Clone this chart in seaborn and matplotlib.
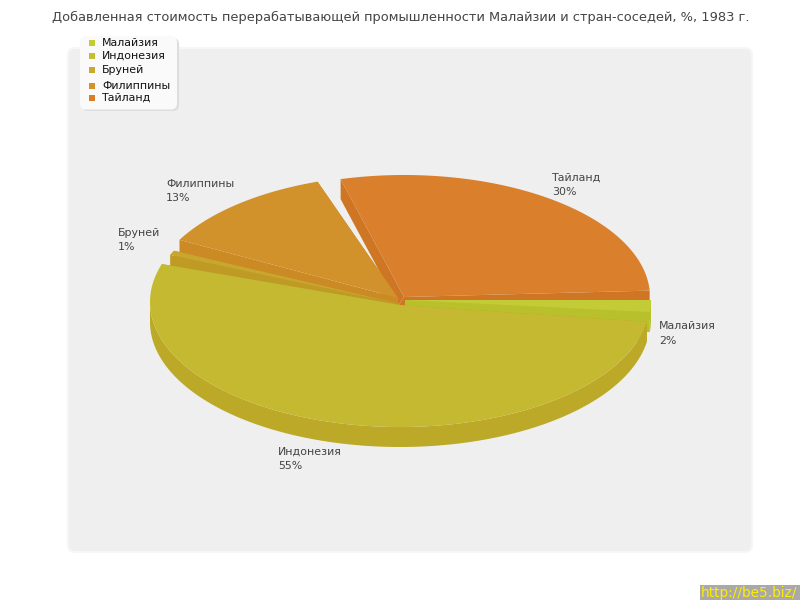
import numpy as np
import pandas as pd
import matplotlib
import matplotlib.pyplot as plt
import seaborn as sns
from matplotlib.patches import FancyBboxPatch, Polygon, Rectangle

matplotlib.use("Agg")

TITLE = "Добавленная стоимость перерабатывающей промышленности Малайзии и стран-соседей, %, 1983 г."
countries = ["Малайзия", "Индонезия", "Бруней", "Филиппины", "Тайланд"]
shares = [2, 55, 1, 13, 30]

top_colors = ["#C3CC36", "#C6B932", "#C9A62D", "#D2922B", "#DA7F2B"]
side_colors = ["#B8C02B", "#BBA927", "#BF9A24", "#CB8A24", "#CF7625"]
legend_colors = ["#C4CC2F", "#C6BC2F", "#C9A92F", "#D9922A", "#D97D2A"]

# pie layout, pixels
centers = [(405, 300), (400, 302), (400, 304), (398, 298), (404, 297)]
tips = [(405, 300), (400, 305), (400, 304), (398, 298), (404, 297)]
wall_tips = [(405, 320), (400, 325), (400, 324), (398, 318), (398, 306)]
radii = [(246, 123), (250, 125), (250, 125), (248, 123), (246, 122)]
pads = [(0, 1.5), (2, 5.5), (0, 1.5), (1.5, 2), (2, 3)]
DEPTH = 20


def slice_angles(values):
    """Start and end angle of each slice, clockwise on screen from east."""
    total = sum(values)
    edges = np.cumsum([0] + [v / total * 360 for v in values])
    return list(zip(edges[:-1], edges[1:]))


def arc(center, radius, a0, a1):
    t = np.radians(np.linspace(a0, a1, max(int(abs(a1 - a0)) * 2, 2)))
    return np.column_stack([center[0] + radius[0] * np.cos(t), center[1] + radius[1] * np.sin(t)])


def draw_slice(ax, i, a0, a1, z):
    c, tip, r = centers[i], tips[i], radii[i]
    a0, a1 = a0 + pads[i][0], a1 - pads[i][1]
    # radial walls facing the viewer
    for ang in (a0, a1):
        p = arc(c, r, ang, ang)[0]
        wall = [tip, p, (p[0], p[1] + DEPTH), wall_tips[i]]
        ax.add_patch(Polygon(wall, fc=side_colors[i], ec="none", zorder=z))
    # outer wall, only the front half shows
    lo, hi = max(a0, 0), min(a1, 180)
    if hi > lo:
        outer = arc(c, r, lo, hi)
        wall = np.vstack([outer, (outer + [0, DEPTH])[::-1]])
        ax.add_patch(Polygon(wall, fc=side_colors[i], ec="none", zorder=z))
    top = np.vstack([[tip], arc(c, r, a0, a1)])
    ax.add_patch(Polygon(top, fc=top_colors[i], ec="none", zorder=z + 0.5))


sns.set_theme(style="white")
plt.rcParams["font.family"] = ["DejaVu Sans"]

fig = plt.figure(figsize=(8, 6), dpi=100)
ax = fig.add_axes([0, 0, 1, 1])
ax.set_xlim(0, 800)
ax.set_ylim(600, 0)
ax.axis("off")

ax.add_patch(FancyBboxPatch((72, 52), 676, 496, boxstyle="round,pad=4,rounding_size=7",
                            fc="#EFEFEF", ec="#F6F6F6", lw=1.5, zorder=0))

# drawing order: back slices first, Indonesia on top
angles = slice_angles(shares)
for n, i in enumerate([4, 3, 2, 0, 1]):
    draw_slice(ax, i, *angles[i], 3 + n)

label_text = [f"{c}\n{s}%" for c, s in zip(countries, shares)]
label_pos = [(659, 333.5), (278, 458.5), (118, 240), (166, 191), (552, 184.5)]
for txt, (x, y) in zip(label_text, label_pos):
    ax.text(x, y, txt, fontsize=7.9, color="#444444", va="center", linespacing=1.55, zorder=12)

ax.text(400.5, 17, TITLE, fontsize=9.38, color="#444444", ha="center", va="center")

# legend
ax.add_patch(FancyBboxPatch((82, 38), 97, 73, boxstyle="round,pad=0,rounding_size=6",
                            fc="#DDDDDD", ec="none", zorder=13))
ax.add_patch(FancyBboxPatch((80, 36), 97, 73.5, boxstyle="round,pad=0,rounding_size=6",
                            fc="#FAFAFA", ec="none", zorder=14))
legend_y = [43, 56, 70, 86, 98]
legend_df = pd.DataFrame({"country": countries, "x": [92] * 5, "y": legend_y})
sns.scatterplot(data=legend_df, x="x", y="y", hue="country", palette=legend_colors, marker="s",
                s=22, linewidth=0, legend=False, ax=ax, zorder=15)
for name, y in zip(countries, legend_y):
    ax.text(102, y, name, fontsize=7.9, color="#111111", va="center", zorder=15)

# watermark
ax.add_patch(Rectangle((700, 585), 100, 15, fc="#A9A9A9", ec="none", zorder=16))
ax.text(701, 593, "http://be5.biz/", fontsize=9.8, color="#FFEE00", va="center", zorder=17)

ax.set_xlabel("")
ax.set_ylabel("")
ax.set_xlim(0, 800)
ax.set_ylim(600, 0)
fig.savefig("out.png", dpi=100)
